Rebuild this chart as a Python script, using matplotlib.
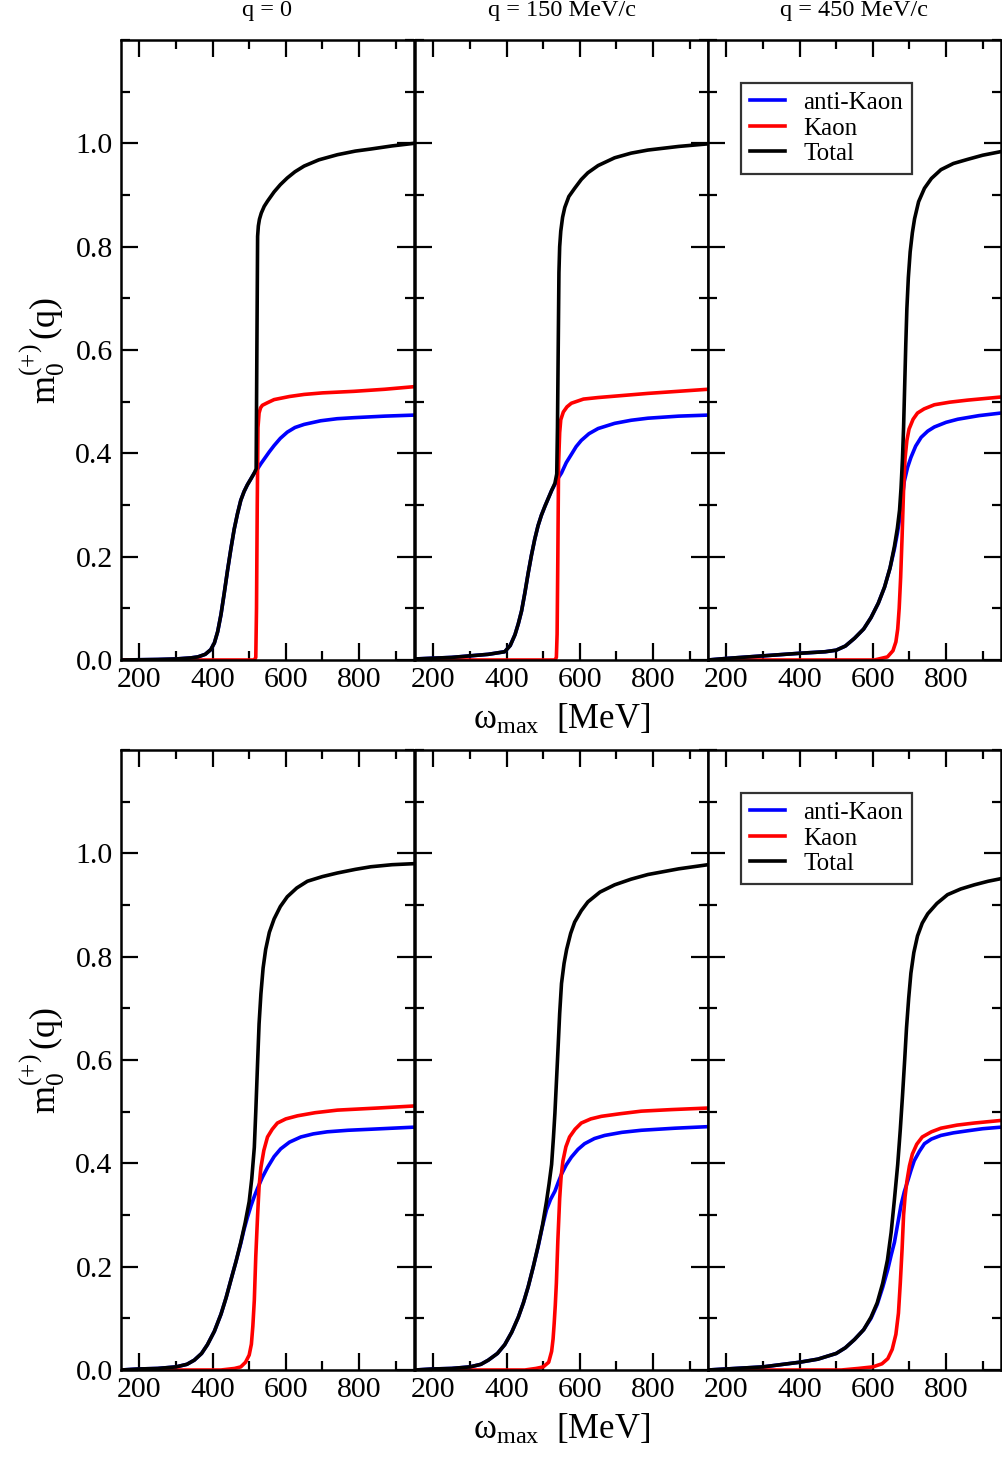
import matplotlib
matplotlib.use('Agg')
import matplotlib.pyplot as plt
from matplotlib.ticker import MultipleLocator

plt.rcParams['font.family'] = ['Liberation Serif', 'DejaVu Serif']
plt.rcParams['mathtext.fontset'] = 'custom'
plt.rcParams['mathtext.rm'] = 'Liberation Serif'
plt.rcParams['mathtext.it'] = 'Liberation Serif:italic'

# ---- data (omega_max in MeV, m0 values) ----
titles = ['q = 0', 'q = 150 MeV/c', 'q = 450 MeV/c']

# upper row
up_q0_akaon_x = [150, 250, 300, 340, 360, 380, 395, 405, 414, 423, 432, 441, 450, 459, 468, 477, 486, 495, 505, 514,
                 523, 532, 541, 555, 568, 585, 604, 625, 650, 695, 740, 786, 870, 950]
up_q0_akaon_y = [0.0, 0.001, 0.002, 0.004, 0.006, 0.011, 0.02, 0.033, 0.055, 0.088, 0.13, 0.174, 0.215, 0.253, 0.283,
                 0.309, 0.326, 0.339, 0.351, 0.362, 0.37, 0.38, 0.389, 0.403, 0.415, 0.429, 0.441, 0.45, 0.456, 0.463,
                 0.467, 0.469, 0.472, 0.474]
up_q0_kaon_x = [150, 514, 518, 520, 522, 524, 527, 531, 536, 550, 568, 610, 650, 700, 786, 870, 950]
up_q0_kaon_y = [0.0, 0.0, 0.005, 0.1, 0.3, 0.45, 0.478, 0.488, 0.493, 0.498, 0.504, 0.510, 0.514, 0.517, 0.52, 0.524, 0.529]
up_q0_total_x = [150, 250, 300, 340, 360, 380, 395, 405, 414, 423, 432, 441, 450, 459, 468, 477, 486, 495, 505, 514,
                 519, 521, 523, 525, 528, 533, 541, 550, 568, 585, 604, 625, 650, 690, 741, 790, 832, 890, 950]
up_q0_total_y = [0.0, 0.001, 0.002, 0.004, 0.006, 0.011, 0.02, 0.033, 0.055, 0.088, 0.13, 0.174, 0.215, 0.253, 0.283,
                 0.309, 0.326, 0.339, 0.351, 0.362, 0.37, 0.6, 0.82, 0.84, 0.853, 0.865, 0.878, 0.888, 0.906, 0.92,
                 0.933, 0.945, 0.956, 0.968, 0.978, 0.985, 0.989, 0.995, 1.0]

up_q150_akaon_x = [150, 250, 300, 350, 395, 410, 423, 432, 441, 450, 459, 468, 477, 486, 495, 505, 514, 523, 532, 541,
                   550, 563, 577, 590, 604, 625, 650, 695, 740, 786, 870, 950]
up_q150_akaon_y = [0.002, 0.005, 0.008, 0.011, 0.016, 0.028, 0.049, 0.07, 0.095, 0.13, 0.168, 0.203, 0.234, 0.26, 0.28,
                   0.298, 0.313, 0.328, 0.34, 0.352, 0.362, 0.382, 0.398, 0.413, 0.425, 0.438, 0.448, 0.458, 0.464,
                   0.468, 0.472, 0.474]
up_q150_kaon_x = [150, 532, 536, 538, 540, 542, 545, 548, 555, 565, 577, 610, 650, 786, 950]
up_q150_kaon_y = [0.0, 0.0, 0.005, 0.05, 0.2, 0.38, 0.44, 0.465, 0.48, 0.49, 0.497, 0.505, 0.508, 0.516, 0.524]
up_q150_total_x = [150, 250, 300, 350, 395, 410, 423, 432, 441, 450, 459, 468, 477, 486, 495, 505, 514, 523, 532,
                   537, 539, 541, 543, 545, 548, 553, 559, 570, 586, 604, 622, 650, 695, 740, 786, 870, 950]
up_q150_total_y = [0.002, 0.005, 0.008, 0.011, 0.016, 0.028, 0.049, 0.07, 0.095, 0.13, 0.168, 0.203, 0.234, 0.26, 0.28,
                   0.298, 0.313, 0.328, 0.342, 0.36, 0.45, 0.6, 0.75, 0.8, 0.83, 0.857, 0.876, 0.897, 0.913, 0.93,
                   0.943, 0.957, 0.972, 0.981, 0.987, 0.994, 0.999]

up_q450_akaon_x = [150, 200, 300, 400, 470, 500, 525, 550, 575, 595, 615, 632, 647, 659, 667, 673, 680, 686, 695, 704,
                   717, 732, 750, 768, 800, 832, 890, 950]
up_q450_akaon_y = [0.0, 0.003, 0.008, 0.013, 0.016, 0.019, 0.027, 0.042, 0.06, 0.082, 0.11, 0.141, 0.178, 0.215, 0.245,
                   0.272, 0.31, 0.346, 0.373, 0.392, 0.414, 0.431, 0.443, 0.451, 0.46, 0.466, 0.473, 0.478]
up_q450_kaon_x = [150, 604, 640, 655, 663, 668, 672, 676, 680, 684, 688, 693, 699, 710, 722, 740, 768, 810, 859, 950]
up_q450_kaon_y = [0.0, 0.0, 0.006, 0.018, 0.035, 0.06, 0.1, 0.16, 0.24, 0.33, 0.39, 0.425, 0.447, 0.466, 0.478, 0.486,
                  0.494, 0.499, 0.503, 0.509]
up_q450_total_x = [150, 200, 300, 400, 470, 500, 525, 550, 575, 595, 615, 632, 647, 659, 667, 673, 677, 681, 684, 687,
                   690, 693, 697, 702, 708, 714, 725, 741, 760, 786, 820, 859, 900, 950]
up_q450_total_y = [0.0, 0.003, 0.008, 0.013, 0.016, 0.019, 0.027, 0.042, 0.06, 0.082, 0.11, 0.141, 0.178, 0.22, 0.255,
                   0.29, 0.332, 0.39, 0.45, 0.53, 0.61, 0.68, 0.74, 0.79, 0.827, 0.854, 0.887, 0.913, 0.932, 0.949,
                   0.961, 0.969, 0.977, 0.984]

# lower row
lo_q0_akaon_x = [150, 200, 250, 300, 330, 350, 370, 386, 405, 423, 437, 450, 464, 477, 486, 495, 505, 514, 523, 536,
                 550, 568, 586, 610, 641, 675, 713, 770, 832, 950]
lo_q0_akaon_y = [0.0, 0.002, 0.003, 0.006, 0.011, 0.019, 0.032, 0.049, 0.075, 0.108, 0.14, 0.174, 0.21, 0.245, 0.272,
                 0.295, 0.318, 0.336, 0.352, 0.373, 0.392, 0.413, 0.428, 0.441, 0.451, 0.457, 0.461, 0.464, 0.466, 0.47]
lo_q0_kaon_x = [150, 423, 460, 477, 490, 500, 506, 510, 514, 518, 523, 527, 532, 540, 550, 563, 577, 600, 632, 680,
                741, 850, 950]
lo_q0_kaon_y = [0.0, 0.0, 0.003, 0.006, 0.015, 0.029, 0.05, 0.085, 0.135, 0.22, 0.3, 0.355, 0.392, 0.425, 0.451, 0.466,
                0.478, 0.486, 0.492, 0.498, 0.503, 0.507, 0.511]
lo_q0_total_x = [150, 200, 250, 300, 330, 350, 370, 386, 405, 423, 437, 450, 464, 477, 489, 500, 507, 514, 518, 523,
                 527, 532, 538, 545, 555, 568, 585, 604, 630, 659, 700, 741, 790, 832, 890, 950]
lo_q0_total_y = [0.0, 0.002, 0.003, 0.006, 0.011, 0.019, 0.032, 0.049, 0.075, 0.108, 0.14, 0.174, 0.21, 0.247, 0.285,
                 0.326, 0.37, 0.431, 0.5, 0.596, 0.67, 0.728, 0.778, 0.814, 0.847, 0.873, 0.897, 0.916, 0.933, 0.946,
                 0.955, 0.962, 0.969, 0.974, 0.978, 0.98]

lo_q150_akaon_x = [150, 200, 250, 300, 330, 350, 375, 395, 414, 432, 446, 459, 473, 486, 498, 509, 520, 532, 541, 550,
                   563, 577, 595, 613, 640, 668, 715, 768, 860, 950]
lo_q150_akaon_y = [0.0, 0.002, 0.003, 0.006, 0.011, 0.019, 0.032, 0.049, 0.073, 0.102, 0.13, 0.161, 0.2, 0.238, 0.278,
                   0.31, 0.33, 0.346, 0.363, 0.379, 0.397, 0.412, 0.427, 0.438, 0.448, 0.454, 0.46, 0.464, 0.468, 0.471]
lo_q150_kaon_x = [150, 450, 480, 500, 515, 523, 527, 530, 533, 536, 540, 545, 549, 554, 562, 572, 587, 604, 630, 659,
                  710, 768, 850, 950]
lo_q150_kaon_y = [0.0, 0.0, 0.003, 0.006, 0.015, 0.036, 0.06, 0.09, 0.125, 0.168, 0.25, 0.332, 0.375, 0.405, 0.432,
                  0.451, 0.466, 0.478, 0.486, 0.491, 0.496, 0.501, 0.504, 0.507]
lo_q150_total_x = [150, 200, 250, 300, 330, 350, 375, 395, 414, 432, 446, 459, 473, 486, 498, 509, 516, 523, 528, 532,
                   537, 541, 545, 550, 557, 564, 575, 586, 604, 622, 655, 695, 740, 786, 870, 950]
lo_q150_total_y = [0.0, 0.002, 0.003, 0.006, 0.011, 0.019, 0.032, 0.049, 0.073, 0.102, 0.13, 0.161, 0.2, 0.24, 0.28,
                   0.326, 0.36, 0.398, 0.45, 0.497, 0.57, 0.629, 0.69, 0.748, 0.787, 0.814, 0.845, 0.867, 0.889, 0.906,
                   0.925, 0.939, 0.95, 0.959, 0.97, 0.978]

lo_q450_akaon_x = [150, 200, 300, 400, 450, 500, 525, 550, 575, 595, 612, 627, 641, 650, 659, 668, 677, 686, 695, 704,
                   713, 727, 741, 760, 786, 820, 859, 900, 950]
lo_q450_akaon_y = [0.0, 0.002, 0.006, 0.015, 0.021, 0.032, 0.043, 0.059, 0.078, 0.1, 0.127, 0.16, 0.195, 0.222, 0.247,
                   0.283, 0.319, 0.345, 0.365, 0.386, 0.405, 0.423, 0.438, 0.447, 0.454, 0.459, 0.463, 0.467, 0.47]
lo_q450_kaon_x = [150, 514, 560, 600, 625, 641, 653, 663, 670, 675, 680, 684, 688, 693, 700, 708, 720, 735, 760, 786,
                  830, 877, 950]
lo_q450_kaon_y = [0.0, 0.0, 0.003, 0.006, 0.012, 0.022, 0.04, 0.069, 0.11, 0.168, 0.235, 0.3, 0.335, 0.365, 0.395,
                  0.418, 0.437, 0.451, 0.461, 0.468, 0.474, 0.478, 0.483]
lo_q450_total_x = [150, 200, 300, 400, 450, 500, 525, 550, 575, 595, 612, 627, 640, 650, 659, 668, 675, 681, 687, 692,
                   698, 704, 712, 722, 735, 750, 775, 804, 840, 877, 915, 950]
lo_q450_total_y = [0.0, 0.002, 0.006, 0.015, 0.021, 0.032, 0.043, 0.059, 0.078, 0.102, 0.13, 0.168, 0.213, 0.266, 0.33,
                   0.398, 0.465, 0.53, 0.6, 0.662, 0.72, 0.768, 0.808, 0.84, 0.865, 0.883, 0.903, 0.92, 0.931, 0.939,
                   0.946, 0.951]

rows = [
    [(up_q0_akaon_x, up_q0_akaon_y, up_q0_kaon_x, up_q0_kaon_y, up_q0_total_x, up_q0_total_y),
     (up_q150_akaon_x, up_q150_akaon_y, up_q150_kaon_x, up_q150_kaon_y, up_q150_total_x, up_q150_total_y),
     (up_q450_akaon_x, up_q450_akaon_y, up_q450_kaon_x, up_q450_kaon_y, up_q450_total_x, up_q450_total_y)],
    [(lo_q0_akaon_x, lo_q0_akaon_y, lo_q0_kaon_x, lo_q0_kaon_y, lo_q0_total_x, lo_q0_total_y),
     (lo_q150_akaon_x, lo_q150_akaon_y, lo_q150_kaon_x, lo_q150_kaon_y, lo_q150_total_x, lo_q150_total_y),
     (lo_q450_akaon_x, lo_q450_akaon_y, lo_q450_kaon_x, lo_q450_kaon_y, lo_q450_total_x, lo_q450_total_y)],
]

W, H = 1002, 1458
fig = plt.figure(figsize=(W / 100, H / 100), dpi=100)

col_left = [121, 415, 708]
col_w = 293
row_top = [40, 750]
row_h = 620
LW = 2.6

for r, row in enumerate(rows):
    for c, (bx, by, rx, ry, tx, ty) in enumerate(row):
        ax = fig.add_axes([col_left[c] / W, (H - row_top[r] - row_h) / H, col_w / W, row_h / H])
        ax.plot(bx, by, color='blue', lw=LW, label='anti-Kaon', solid_joinstyle='round')
        ax.plot(rx, ry, color='red', lw=LW, label='Kaon', solid_joinstyle='round')
        ax.plot(tx, ty, color='black', lw=LW, label='Total', solid_joinstyle='round')

        ax.set_xlim(150, 950)
        ax.set_ylim(0, 1.2)
        ax.xaxis.set_minor_locator(MultipleLocator(100))
        ax.yaxis.set_minor_locator(MultipleLocator(0.1))
        ax.set_xticks([200, 400, 600, 800])
        ax.set_yticks([0.0, 0.2, 0.4, 0.6, 0.8, 1.0])
        ax.tick_params(which='both', direction='in', top=True, right=True, width=1.6)
        ax.tick_params(which='major', length=12, labelsize=21.5, pad=5)
        ax.tick_params(which='minor', length=6.5)
        ax.tick_params(axis='y', pad=6)
        for s in ax.spines.values():
            s.set_linewidth(1.8)

        if c == 0:
            ax.set_yticklabels(['0.0', '0.2', '0.4', '0.6', '0.8', '1.0'])
            ax.set_ylabel(r'$\mathrm{m_0^{(+)}\,(q)}$', fontsize=26, labelpad=6)
        else:
            ax.set_yticklabels([])
        if c == 1:
            ax.set_xlabel('ω$_\\mathrm{max}$  [MeV]', fontsize=25, labelpad=7)
        if r == 0:
            ax.set_title(titles[c], fontsize=17.5, pad=17)
        if c == 2:
            leg = ax.legend(loc='upper left', bbox_to_anchor=(0.113, 0.931), borderaxespad=0,
                            fontsize=18, frameon=True, fancybox=False, handlelength=1.4,
                            handletextpad=0.75, labelspacing=0.12, borderpad=0.35)
            leg.get_frame().set_edgecolor('black')
            leg.get_frame().set_linewidth(1.6)

fig.savefig('out.png', dpi=100)
